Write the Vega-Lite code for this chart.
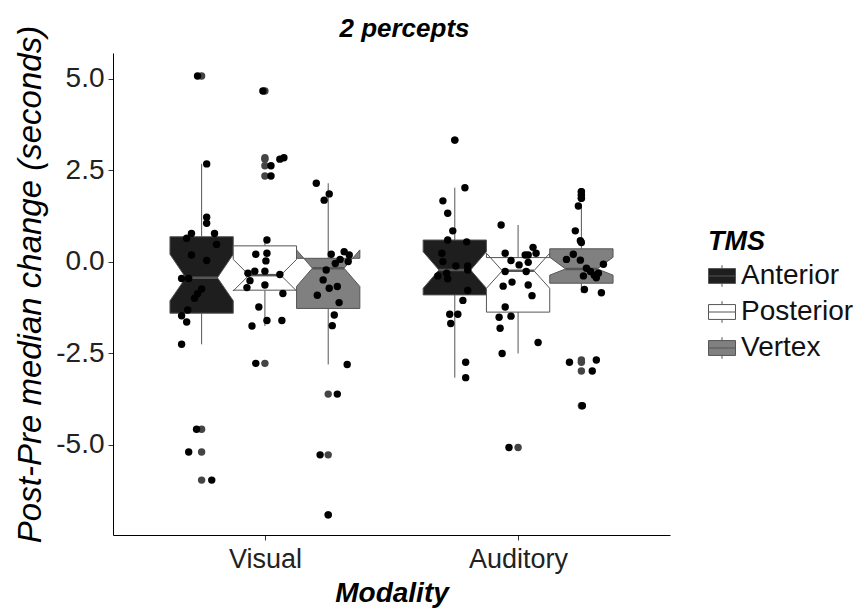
{
  "$schema": "https://vega.github.io/schema/vega-lite/v6.json",
  "width": 557,
  "height": 482,
  "autosize": "none",
  "padding": {"left": 113, "top": 53, "right": 196, "bottom": 77},
  "config": {
    "font": "Liberation Sans",
    "view": {"stroke": null},
    "axis": {"grid": false, "domainColor": "#000", "domainWidth": 1, "tickColor": "#333", "tickSize": 5, "labelColor": "#222", "titleColor": "#000"}
  },
  "title": {"text": "2 percepts", "fontSize": 26, "fontWeight": "bold", "fontStyle": "italic", "anchor": "middle", "dx": 13, "offset": -17, "color": "#000"},
  "datasets": {
    "stats": [
      {"group": "Visual Anterior", "modality": "Visual", "tms": "Anterior", "lower": -2.25, "q1": -1.40, "median": -0.43, "q3": 0.69, "upper": 2.68, "nlow": -1.06, "nhigh": 0.21},
      {"group": "Visual Posterior", "modality": "Visual", "tms": "Posterior", "lower": -1.75, "q1": -0.77, "median": -0.36, "q3": 0.44, "upper": 0.60, "nlow": -0.79, "nhigh": 0.07},
      {"group": "Visual Vertex", "modality": "Visual", "tms": "Vertex", "lower": -2.80, "q1": -1.27, "median": -0.17, "q3": 0.10, "upper": 2.15, "nlow": -0.67, "nhigh": 0.33},
      {"group": "Auditory Anterior", "modality": "Auditory", "tms": "Anterior", "lower": -3.16, "q1": -0.90, "median": -0.22, "q3": 0.60, "upper": 2.03, "nlow": -0.72, "nhigh": 0.28},
      {"group": "Auditory Posterior", "modality": "Auditory", "tms": "Posterior", "lower": -2.50, "q1": -1.37, "median": -0.24, "q3": 0.12, "upper": 1.01, "nlow": -0.72, "nhigh": 0.24},
      {"group": "Auditory Vertex", "modality": "Auditory", "tms": "Vertex", "lower": -0.84, "q1": -0.58, "median": -0.19, "q3": 0.36, "upper": 1.55, "nlow": -0.36, "nhigh": 0.13}
    ],
    "pts": [
      {"modality": "Visual", "tms": "Anterior", "value": 5.08, "jitter": -0.016},
      {"modality": "Visual", "tms": "Anterior", "value": 2.68, "jitter": 0.02},
      {"modality": "Visual", "tms": "Anterior", "value": 1.22, "jitter": 0.02},
      {"modality": "Visual", "tms": "Anterior", "value": 1.06, "jitter": 0.02},
      {"modality": "Visual", "tms": "Anterior", "value": 0.78, "jitter": -0.04},
      {"modality": "Visual", "tms": "Anterior", "value": 0.65, "jitter": -0.059},
      {"modality": "Visual", "tms": "Anterior", "value": 0.78, "jitter": 0.051},
      {"modality": "Visual", "tms": "Anterior", "value": 0.48, "jitter": 0.059},
      {"modality": "Visual", "tms": "Anterior", "value": 0.19, "jitter": -0.04},
      {"modality": "Visual", "tms": "Anterior", "value": 0.04, "jitter": 0.02},
      {"modality": "Visual", "tms": "Anterior", "value": -0.45, "jitter": -0.079},
      {"modality": "Visual", "tms": "Anterior", "value": -0.45, "jitter": -0.051},
      {"modality": "Visual", "tms": "Anterior", "value": -0.74, "jitter": 0.0},
      {"modality": "Visual", "tms": "Anterior", "value": -0.87, "jitter": -0.016},
      {"modality": "Visual", "tms": "Anterior", "value": -0.99, "jitter": -0.028},
      {"modality": "Visual", "tms": "Anterior", "value": -1.31, "jitter": -0.055},
      {"modality": "Visual", "tms": "Anterior", "value": -1.47, "jitter": -0.079},
      {"modality": "Visual", "tms": "Anterior", "value": -1.64, "jitter": -0.059},
      {"modality": "Visual", "tms": "Anterior", "value": -2.25, "jitter": -0.079},
      {"modality": "Visual", "tms": "Anterior", "value": -4.57, "jitter": -0.02},
      {"modality": "Visual", "tms": "Anterior", "value": -5.19, "jitter": -0.051},
      {"modality": "Visual", "tms": "Anterior", "value": -5.96, "jitter": 0.04},
      {"modality": "Visual", "tms": "Posterior", "value": 4.67, "jitter": -0.008},
      {"modality": "Visual", "tms": "Posterior", "value": 2.81, "jitter": 0.059},
      {"modality": "Visual", "tms": "Posterior", "value": 2.85, "jitter": 0.075},
      {"modality": "Visual", "tms": "Posterior", "value": 2.63, "jitter": 0.024},
      {"modality": "Visual", "tms": "Posterior", "value": 2.35, "jitter": 0.024},
      {"modality": "Visual", "tms": "Posterior", "value": 0.60, "jitter": 0.008},
      {"modality": "Visual", "tms": "Posterior", "value": 0.21, "jitter": -0.036},
      {"modality": "Visual", "tms": "Posterior", "value": 0.24, "jitter": 0.008},
      {"modality": "Visual", "tms": "Posterior", "value": 0.03, "jitter": 0.004},
      {"modality": "Visual", "tms": "Posterior", "value": -0.31, "jitter": -0.067},
      {"modality": "Visual", "tms": "Posterior", "value": -0.25, "jitter": -0.04},
      {"modality": "Visual", "tms": "Posterior", "value": -0.25, "jitter": 0.0},
      {"modality": "Visual", "tms": "Posterior", "value": -0.34, "jitter": 0.059},
      {"modality": "Visual", "tms": "Posterior", "value": -0.51, "jitter": -0.059},
      {"modality": "Visual", "tms": "Posterior", "value": -0.70, "jitter": -0.071},
      {"modality": "Visual", "tms": "Posterior", "value": -0.63, "jitter": 0.0},
      {"modality": "Visual", "tms": "Posterior", "value": -0.86, "jitter": 0.071},
      {"modality": "Visual", "tms": "Posterior", "value": -1.23, "jitter": -0.024},
      {"modality": "Visual", "tms": "Posterior", "value": -1.75, "jitter": -0.051},
      {"modality": "Visual", "tms": "Posterior", "value": -1.60, "jitter": 0.008},
      {"modality": "Visual", "tms": "Posterior", "value": -1.60, "jitter": 0.067},
      {"modality": "Visual", "tms": "Posterior", "value": -2.77, "jitter": -0.036},
      {"modality": "Visual", "tms": "Vertex", "value": 2.15, "jitter": -0.047},
      {"modality": "Visual", "tms": "Vertex", "value": 1.86, "jitter": 0.004},
      {"modality": "Visual", "tms": "Vertex", "value": 1.69, "jitter": -0.016},
      {"modality": "Visual", "tms": "Vertex", "value": 0.21, "jitter": 0.012},
      {"modality": "Visual", "tms": "Vertex", "value": 0.28, "jitter": 0.063},
      {"modality": "Visual", "tms": "Vertex", "value": 0.19, "jitter": 0.083},
      {"modality": "Visual", "tms": "Vertex", "value": 0.07, "jitter": 0.047},
      {"modality": "Visual", "tms": "Vertex", "value": 0.01, "jitter": 0.079},
      {"modality": "Visual", "tms": "Vertex", "value": -0.04, "jitter": 0.028},
      {"modality": "Visual", "tms": "Vertex", "value": -0.22, "jitter": -0.008},
      {"modality": "Visual", "tms": "Vertex", "value": -0.49, "jitter": -0.02},
      {"modality": "Visual", "tms": "Vertex", "value": -0.72, "jitter": 0.004},
      {"modality": "Visual", "tms": "Vertex", "value": -0.67, "jitter": 0.036},
      {"modality": "Visual", "tms": "Vertex", "value": -0.91, "jitter": -0.043},
      {"modality": "Visual", "tms": "Vertex", "value": -1.11, "jitter": 0.043},
      {"modality": "Visual", "tms": "Vertex", "value": -1.45, "jitter": 0.024},
      {"modality": "Visual", "tms": "Vertex", "value": -1.74, "jitter": 0.016},
      {"modality": "Visual", "tms": "Vertex", "value": -2.80, "jitter": 0.075},
      {"modality": "Visual", "tms": "Vertex", "value": -3.61, "jitter": 0.036},
      {"modality": "Visual", "tms": "Vertex", "value": -5.27, "jitter": -0.032},
      {"modality": "Visual", "tms": "Vertex", "value": -6.91, "jitter": 0.0},
      {"modality": "Auditory", "tms": "Anterior", "value": 3.33, "jitter": 0.0},
      {"modality": "Auditory", "tms": "Anterior", "value": 2.03, "jitter": 0.04},
      {"modality": "Auditory", "tms": "Anterior", "value": 1.67, "jitter": -0.047},
      {"modality": "Auditory", "tms": "Anterior", "value": 1.33, "jitter": -0.028},
      {"modality": "Auditory", "tms": "Anterior", "value": 0.85, "jitter": -0.008},
      {"modality": "Auditory", "tms": "Anterior", "value": 0.60, "jitter": -0.028},
      {"modality": "Auditory", "tms": "Anterior", "value": 0.55, "jitter": 0.047},
      {"modality": "Auditory", "tms": "Anterior", "value": 0.24, "jitter": -0.051},
      {"modality": "Auditory", "tms": "Anterior", "value": 0.01, "jitter": -0.047},
      {"modality": "Auditory", "tms": "Anterior", "value": -0.11, "jitter": 0.004},
      {"modality": "Auditory", "tms": "Anterior", "value": -0.11, "jitter": 0.051},
      {"modality": "Auditory", "tms": "Anterior", "value": -0.22, "jitter": 0.051},
      {"modality": "Auditory", "tms": "Anterior", "value": -0.38, "jitter": -0.067},
      {"modality": "Auditory", "tms": "Anterior", "value": -0.31, "jitter": -0.032},
      {"modality": "Auditory", "tms": "Anterior", "value": -0.46, "jitter": -0.028},
      {"modality": "Auditory", "tms": "Anterior", "value": -0.78, "jitter": 0.051},
      {"modality": "Auditory", "tms": "Anterior", "value": -1.05, "jitter": 0.032},
      {"modality": "Auditory", "tms": "Anterior", "value": -1.43, "jitter": -0.02},
      {"modality": "Auditory", "tms": "Anterior", "value": -1.43, "jitter": 0.012},
      {"modality": "Auditory", "tms": "Anterior", "value": -1.68, "jitter": -0.016},
      {"modality": "Auditory", "tms": "Anterior", "value": -2.74, "jitter": 0.043},
      {"modality": "Auditory", "tms": "Anterior", "value": -3.16, "jitter": 0.043},
      {"modality": "Auditory", "tms": "Posterior", "value": 1.01, "jitter": -0.067},
      {"modality": "Auditory", "tms": "Posterior", "value": 0.24, "jitter": -0.051},
      {"modality": "Auditory", "tms": "Posterior", "value": 0.04, "jitter": -0.028},
      {"modality": "Auditory", "tms": "Posterior", "value": 0.19, "jitter": 0.028},
      {"modality": "Auditory", "tms": "Posterior", "value": 0.19, "jitter": 0.04},
      {"modality": "Auditory", "tms": "Posterior", "value": 0.40, "jitter": 0.059},
      {"modality": "Auditory", "tms": "Posterior", "value": 0.24, "jitter": 0.071},
      {"modality": "Auditory", "tms": "Posterior", "value": -0.08, "jitter": 0.004},
      {"modality": "Auditory", "tms": "Posterior", "value": -0.01, "jitter": 0.04},
      {"modality": "Auditory", "tms": "Posterior", "value": -0.26, "jitter": 0.032},
      {"modality": "Auditory", "tms": "Posterior", "value": -0.26, "jitter": -0.051},
      {"modality": "Auditory", "tms": "Posterior", "value": -0.66, "jitter": -0.059},
      {"modality": "Auditory", "tms": "Posterior", "value": -0.55, "jitter": -0.024},
      {"modality": "Auditory", "tms": "Posterior", "value": -0.63, "jitter": 0.04},
      {"modality": "Auditory", "tms": "Posterior", "value": -0.92, "jitter": 0.055},
      {"modality": "Auditory", "tms": "Posterior", "value": -1.23, "jitter": -0.051},
      {"modality": "Auditory", "tms": "Posterior", "value": -1.51, "jitter": -0.075},
      {"modality": "Auditory", "tms": "Posterior", "value": -1.48, "jitter": -0.028},
      {"modality": "Auditory", "tms": "Posterior", "value": -1.81, "jitter": -0.071},
      {"modality": "Auditory", "tms": "Posterior", "value": -2.20, "jitter": 0.079},
      {"modality": "Auditory", "tms": "Posterior", "value": -2.50, "jitter": -0.063},
      {"modality": "Auditory", "tms": "Posterior", "value": -5.07, "jitter": -0.036},
      {"modality": "Auditory", "tms": "Vertex", "value": 1.92, "jitter": 0.0},
      {"modality": "Auditory", "tms": "Vertex", "value": 1.83, "jitter": 0.0},
      {"modality": "Auditory", "tms": "Vertex", "value": 1.74, "jitter": 0.0},
      {"modality": "Auditory", "tms": "Vertex", "value": 1.53, "jitter": -0.012},
      {"modality": "Auditory", "tms": "Vertex", "value": 0.85, "jitter": -0.024},
      {"modality": "Auditory", "tms": "Vertex", "value": 0.58, "jitter": -0.004},
      {"modality": "Auditory", "tms": "Vertex", "value": 0.53, "jitter": 0.0},
      {"modality": "Auditory", "tms": "Vertex", "value": 0.21, "jitter": -0.032},
      {"modality": "Auditory", "tms": "Vertex", "value": 0.07, "jitter": -0.059},
      {"modality": "Auditory", "tms": "Vertex", "value": 0.05, "jitter": -0.004},
      {"modality": "Auditory", "tms": "Vertex", "value": -0.06, "jitter": 0.087},
      {"modality": "Auditory", "tms": "Vertex", "value": -0.17, "jitter": 0.02},
      {"modality": "Auditory", "tms": "Vertex", "value": -0.26, "jitter": 0.036},
      {"modality": "Auditory", "tms": "Vertex", "value": -0.31, "jitter": 0.067},
      {"modality": "Auditory", "tms": "Vertex", "value": -0.36, "jitter": 0.051},
      {"modality": "Auditory", "tms": "Vertex", "value": -0.38, "jitter": 0.008},
      {"modality": "Auditory", "tms": "Vertex", "value": -0.43, "jitter": 0.059},
      {"modality": "Auditory", "tms": "Vertex", "value": -0.75, "jitter": 0.012},
      {"modality": "Auditory", "tms": "Vertex", "value": -0.84, "jitter": 0.079},
      {"modality": "Auditory", "tms": "Vertex", "value": -2.74, "jitter": -0.047},
      {"modality": "Auditory", "tms": "Vertex", "value": -2.68, "jitter": 0.059},
      {"modality": "Auditory", "tms": "Vertex", "value": -2.98, "jitter": 0.043},
      {"modality": "Auditory", "tms": "Vertex", "value": -3.93, "jitter": 0.004}
    ]
  },
  "layer": [
    {
      "data": {"name": "stats"},
      "transform": [
        {"calculate": "(datum.modality === 'Visual' ? 1 : 2) + (indexof(['Anterior','Posterior','Vertex'], datum.tms) - 1) * 0.25", "as": "cx"}
      ],
      "mark": {"type": "rule", "color": "#555", "strokeWidth": 1},
      "encoding": {
        "x": {"field": "cx", "type": "quantitative", "title": "Modality",
          "scale": {"domain": [0.4, 2.6], "nice": false, "zero": false},
          "axis": {"values": [1, 2], "labelExpr": "datum.value == 1 ? 'Visual' : 'Auditory'", "labelFontSize": 27, "labelPadding": 6, "titleFontSize": 28, "titleFontWeight": "bold", "titleFontStyle": "italic", "titlePadding": 7, "labelFlush": false}},
        "y": {"field": "q3", "type": "quantitative", "title": "Post-Pre median change (seconds)",
          "scale": {"domain": [-7.46, 5.71], "nice": false, "zero": false},
          "axis": {"values": [-5, -2.5, 0, 2.5, 5], "labelExpr": "replace(format(datum.value, '.1f'), '\u2212', '-')", "labelFontSize": 28, "labelPadding": 4, "titleFontSize": 33, "titleFontWeight": "normal", "titleFontStyle": "italic", "titlePadding": 8, "titleY": 231}},
        "y2": {"field": "upper"}
      }
    },
    {
      "data": {"name": "stats"},
      "transform": [
        {"calculate": "(datum.modality === 'Visual' ? 1 : 2) + (indexof(['Anterior','Posterior','Vertex'], datum.tms) - 1) * 0.25", "as": "cx"}
      ],
      "mark": {"type": "rule", "color": "#555", "strokeWidth": 1},
      "encoding": {
        "x": {"field": "cx", "type": "quantitative", "title": "Modality"},
        "y": {"field": "lower", "type": "quantitative", "title": "Post-Pre median change (seconds)"},
        "y2": {"field": "q1"}
      }
    },
    {
      "data": {"name": "stats"},
      "transform": [
        {"calculate": "(datum.modality === 'Visual' ? 1 : 2) + (indexof(['Anterior','Posterior','Vertex'], datum.tms) - 1) * 0.25", "as": "cx"},
        {"fold": ["q3", "nhigh", "median", "nlow", "q1"], "as": ["k", "v"]},
        {"calculate": "datum.k === 'median' ? 0.0625 : 0.125", "as": "hw"},
        {"calculate": "datum.cx - datum.hw", "as": "xl"},
        {"calculate": "datum.cx + datum.hw", "as": "xr"}
      ],
      "mark": {"type": "area", "orient": "horizontal", "stroke": "#555", "strokeWidth": 1, "opacity": 1, "fillOpacity": 1},
      "encoding": {
        "y": {"field": "v", "type": "quantitative", "title": "Post-Pre median change (seconds)"},
        "x": {"field": "xl", "type": "quantitative", "title": "Modality"},
        "x2": {"field": "xr"},
        "order": {"value": null},
        "detail": {"field": "modality", "type": "nominal"},
        "fill": {"field": "tms", "type": "nominal",
          "scale": {"domain": ["Anterior", "Posterior", "Vertex"], "range": ["#1e1e1e", "#ffffff", "#808080"]},
          "legend": {"title": "TMS", "orient": "none", "legendX": 595, "legendY": 176, "titleFontSize": 27, "titleFontWeight": "bold", "titleFontStyle": "italic", "titleColor": "#000", "labelFontSize": 28, "labelColor": "#111", "symbolType": "M-1,-0.55H1V0.55H-1Z M0,-0.55V-0.8 M0,0.55V0.8 M-1,0H1", "symbolSize": 729, "symbolStrokeColor": "#555", "symbolStrokeWidth": 1, "symbolOpacity": 1, "rowPadding": 8, "titlePadding": 6, "labelOffset": 5}}
      }
    },
    {
      "data": {"name": "stats"},
      "transform": [
        {"calculate": "(datum.modality === 'Visual' ? 1 : 2) + (indexof(['Anterior','Posterior','Vertex'], datum.tms) - 1) * 0.25", "as": "cx"},
        {"calculate": "datum.cx - 0.0625", "as": "ml"},
        {"calculate": "datum.cx + 0.0625", "as": "mr"}
      ],
      "mark": {"type": "rule", "color": "#555", "strokeWidth": 2.5},
      "encoding": {
        "x": {"field": "ml", "type": "quantitative", "title": "Modality"},
        "x2": {"field": "mr"},
        "y": {"field": "median", "type": "quantitative", "title": "Post-Pre median change (seconds)"}
      }
    },
    {
      "data": {"name": "pts"},
      "transform": [
        {"calculate": "datum.modality + ' ' + datum.tms", "as": "group"},
        {"lookup": "group", "from": {"data": {"name": "stats"}, "key": "group", "fields": ["lower", "upper"]}},
        {"filter": "datum.value > datum.upper || datum.value < datum.lower"},
        {"calculate": "(datum.modality === 'Visual' ? 1 : 2) + (indexof(['Anterior','Posterior','Vertex'], datum.tms) - 1) * 0.25", "as": "cx"}
      ],
      "mark": {"type": "circle", "color": "#444", "size": 55, "opacity": 1},
      "encoding": {
        "x": {"field": "cx", "type": "quantitative", "title": "Modality"},
        "y": {"field": "value", "type": "quantitative", "title": "Post-Pre median change (seconds)"}
      }
    },
    {
      "data": {"name": "pts"},
      "transform": [
        {"calculate": "(datum.modality === 'Visual' ? 1 : 2) + (indexof(['Anterior','Posterior','Vertex'], datum.tms) - 1) * 0.25 + datum.jitter", "as": "px"}
      ],
      "mark": {"type": "circle", "color": "#000", "size": 55, "opacity": 1},
      "encoding": {
        "x": {"field": "px", "type": "quantitative", "title": "Modality"},
        "y": {"field": "value", "type": "quantitative", "title": "Post-Pre median change (seconds)"}
      }
    }
  ]
}
